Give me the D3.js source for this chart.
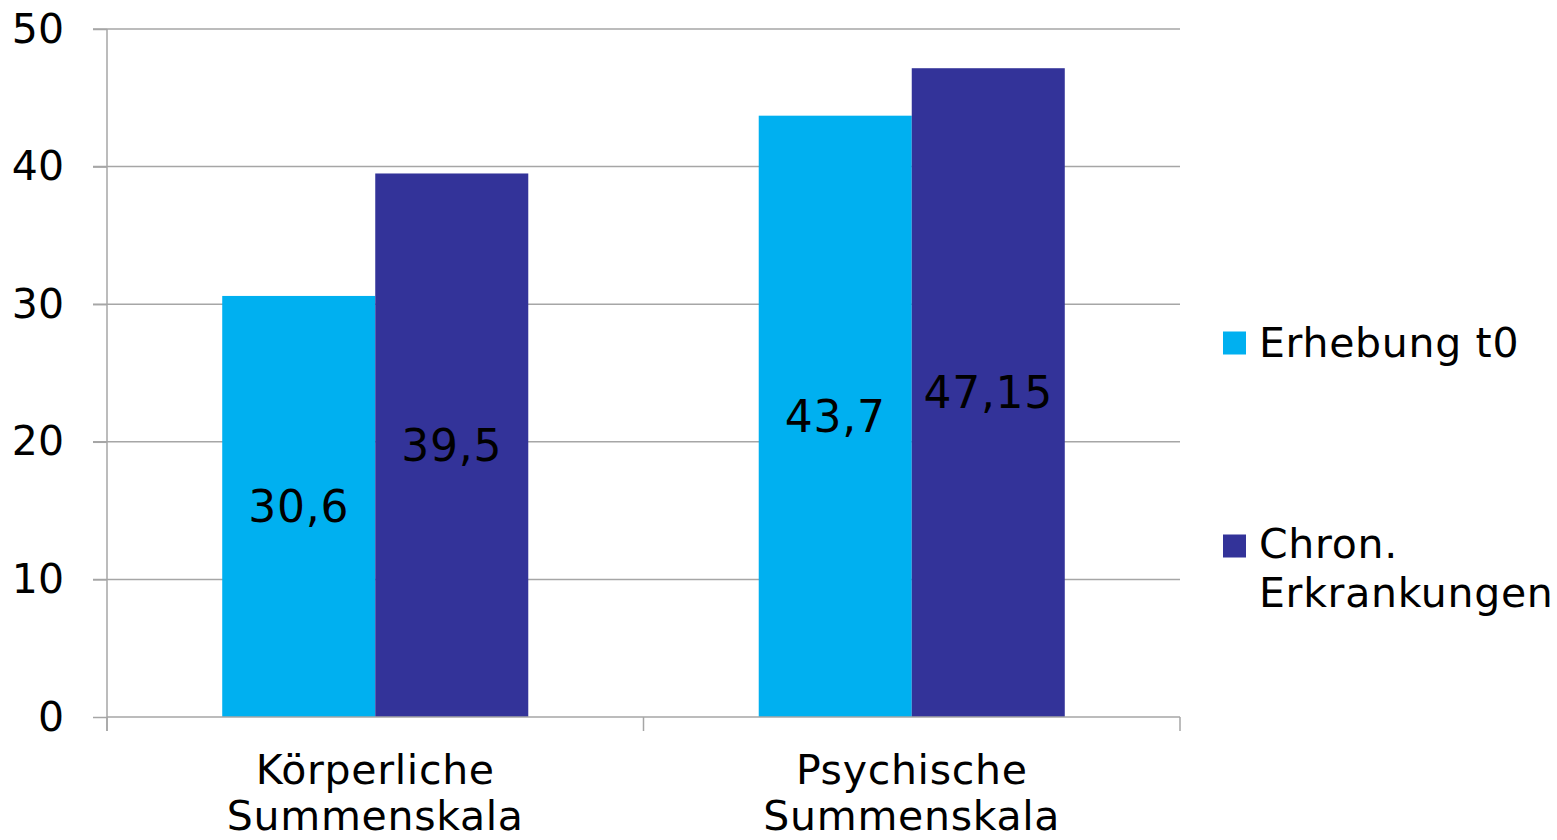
<!DOCTYPE html>
<html>
<head>
<meta charset="utf-8">
<script src="https://cdn.jsdelivr.net/npm/d3@7"></script>
<style>
  html, body { margin: 0; padding: 0; background: #fff; }
  svg { display: block; font-family: "DejaVu Sans", Verdana, sans-serif; }
</style>
</head>
<body>
<svg id="chart" width="1557" height="840"></svg>
<script>
// Kategorien, Reihen und Werte
const categories = [["Körperliche", "Summenskala"], ["Psychische", "Summenskala"]];
const categoryKeys = ["Körperliche Summenskala", "Psychische Summenskala"];
const seriesNames = ["Erhebung t0", "Chron. Erkrankungen"];
const legendLines = [["Erhebung t0"], ["Chron.", "Erkrankungen"]];
const erhebungT0 = [30.6, 43.7];
const chronErkrankungen = [39.5, 47.15];
const valueLabels = [["30,6", "43,7"], ["39,5", "47,15"]];
const yTicks = [0, 10, 20, 30, 40, 50];
const colors = ["#00B0F0", "#333399"];

const seriesValues = [erhebungT0, chronErkrankungen];

const svg = d3.select("#chart");
const plotLeft = 107, plotRight = 1180, plotTop = 29, plotBottom = 717;
const textSize = 41, valueSize = 44, tickSize = 41, spacing = 0.7;

const y = d3.scaleLinear().domain([0, 50]).range([plotBottom, plotTop]);
const x0 = d3.scaleBand().domain(categoryKeys).range([plotLeft, plotRight]).padding(0);
const x1 = d3.scaleBand().domain(seriesNames).range([0, x0.bandwidth()])
  .paddingInner(0).paddingOuter(0.753);

// Gitterlinien
svg.append("g").selectAll("line").data(yTicks.filter(t => t > 0)).join("line")
  .attr("x1", plotLeft - 14).attr("x2", plotRight)
  .attr("y1", d => y(d)).attr("y2", d => y(d))
  .attr("stroke", "#a6a6a6").attr("stroke-width", 1.5);

// Balken
const groups = svg.append("g").selectAll("g").data(categoryKeys).join("g")
  .attr("transform", d => `translate(${x0(d)},0)`);

seriesNames.forEach((s, si) => {
  groups.append("rect")
    .attr("x", x1(s))
    .attr("width", x1.bandwidth())
    .attr("y", (d, ci) => y(seriesValues[si][ci]))
    .attr("height", (d, ci) => plotBottom - y(seriesValues[si][ci]))
    .attr("fill", colors[si]);
  groups.append("text")
    .attr("x", x1(s) + x1.bandwidth() / 2)
    .attr("y", (d, ci) => y(seriesValues[si][ci] / 2))
    .attr("dy", "0.36em")
    .attr("text-anchor", "middle")
    .attr("font-size", valueSize)
    .attr("letter-spacing", spacing)
    .attr("fill", "#000")
    .text((d, ci) => valueLabels[si][ci]);
});

// Y-Achse
const yAxis = svg.append("g").attr("transform", `translate(${plotLeft},0)`)
  .call(d3.axisLeft(y).tickValues(yTicks).tickSize(14).tickPadding(29).tickFormat(d3.format("d")));
yAxis.select(".domain").attr("stroke", "#a6a6a6").attr("stroke-width", 1.5)
  .attr("d", `M0,${plotTop}V${plotBottom + 14}`);
yAxis.selectAll(".tick line").attr("stroke", "#a6a6a6").attr("stroke-width", 1.5);
yAxis.selectAll(".tick text").attr("font-size", tickSize).attr("fill", "#000")
  .attr("font-family", "DejaVu Sans, Verdana, sans-serif");

// X-Achse
svg.append("line").attr("x1", plotLeft).attr("x2", plotRight).attr("y1", plotBottom).attr("y2", plotBottom)
  .attr("stroke", "#a6a6a6").attr("stroke-width", 1.5);
const xTickPos = categoryKeys.map(c => x0(c)).concat([plotRight]);
svg.append("g").selectAll("line").data(xTickPos).join("line")
  .attr("x1", d => d).attr("x2", d => d)
  .attr("y1", plotBottom).attr("y2", plotBottom + 14)
  .attr("stroke", "#a6a6a6").attr("stroke-width", 1.5);

const catText = svg.append("g").selectAll("text").data(categoryKeys).join("text")
  .attr("x", d => x0(d) + x0.bandwidth() / 2)
  .attr("y", 784)
  .attr("text-anchor", "middle")
  .attr("font-size", textSize)
  .attr("letter-spacing", spacing)
  .attr("fill", "#000");
catText.each(function(d, i) {
  const t = d3.select(this);
  categories[i].forEach((line, li) => {
    t.append("tspan").attr("x", x0(d) + x0.bandwidth() / 2)
      .attr("dy", li === 0 ? 0 : 46).text(line);
  });
});

// Legende
const legendY = [343, 546];
const legendBaseline = [357, 558];
seriesNames.forEach((s, si) => {
  svg.append("rect").attr("x", 1223).attr("y", legendY[si] - 11.5)
    .attr("width", 23).attr("height", 23).attr("fill", colors[si]);
  const t = svg.append("text").attr("x", 1259).attr("y", legendBaseline[si])
    .attr("font-size", textSize).attr("letter-spacing", spacing).attr("fill", "#000");
  legendLines[si].forEach((line, li) => {
    t.append("tspan").attr("x", 1259).attr("dy", li === 0 ? 0 : 49).text(line);
  });
});
</script>
</body>
</html>
